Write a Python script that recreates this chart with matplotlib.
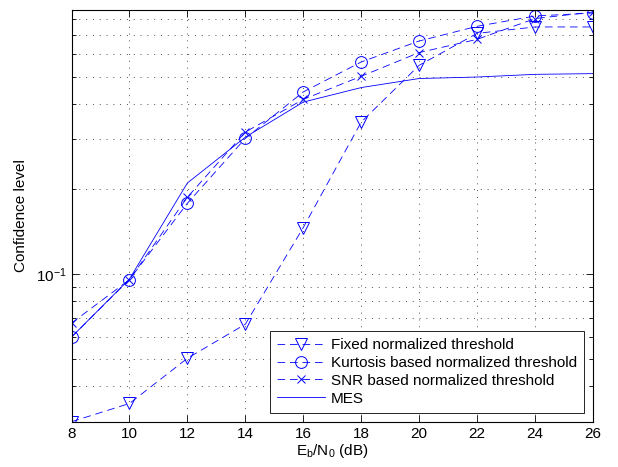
import numpy as np
import matplotlib
matplotlib.use("Agg")
import matplotlib.pyplot as plt
from matplotlib.ticker import LogLocator, NullFormatter

plt.rcParams['font.family'] = ['Liberation Sans', 'DejaVu Sans']
plt.rcParams['mathtext.fontset'] = 'custom'
plt.rcParams['mathtext.rm'] = 'Liberation Sans'
plt.rcParams['mathtext.it'] = 'Liberation Sans'
plt.rcParams['lines.scale_dashes'] = False

# Eb/N0 in dB
ebn0 = [8, 10, 12, 14, 16, 18, 20, 22, 24, 26]

# Confidence level for each detection scheme
fixed = [0.030, 0.0348, 0.0503, 0.0664, 0.146, 0.345, 0.548, 0.711, 0.749, 0.749]
kurtosis = [0.0598, 0.0956, 0.178, 0.302, 0.441, 0.563, 0.668, 0.753, 0.819, 0.839]
snr = [0.067, 0.0955, 0.187, 0.318, 0.415, 0.501, 0.608, 0.677, 0.802, 0.846]
mes = [0.0598, 0.096, 0.210, 0.305, 0.406, 0.457, 0.492, 0.498, 0.509, 0.512]

labels = ['Fixed normalized threshold',
          'Kurtosis based normalized threshold',
          'SNR based normalized threshold',
          'MES']

fs = 11

fig = plt.figure(figsize=(6.18, 4.67), dpi=100)
ax = fig.add_axes([71.5 / 618, 45.3 / 467, 521.5 / 618, 411.7 / 467])

blue = (0, 0, 1)
dash = (5.5, 3.5)
ax.plot(ebn0, fixed, color=blue, lw=0.6, dashes=dash, marker='v', ms=8.5,
        mfc='none', mew=0.7, label=labels[0])
ax.plot(ebn0, kurtosis, color=blue, lw=0.6, dashes=dash, marker='o', ms=8.5,
        mfc='none', mew=0.7, label=labels[1])
ax.plot(ebn0, snr, color=blue, lw=0.6, dashes=dash, marker='x', ms=6,
        mew=0.7, label=labels[2])
ax.plot(ebn0, mes, color=blue, lw=0.6, label=labels[3])

ax.set_yscale('log')
ax.set_xlim(8, 26)
ax.set_ylim(0.03, 0.86)
ax.set_xticks(np.arange(8, 27, 2))
ax.yaxis.set_major_locator(LogLocator(base=10))
ax.yaxis.set_minor_locator(LogLocator(base=10, subs=np.arange(2, 10)))
ax.yaxis.set_minor_formatter(NullFormatter())

ax.tick_params(which='both', direction='in', top=True, right=True,
               labelsize=fs, width=0.6)
ax.tick_params(which='major', length=5)
ax.tick_params(which='minor', length=3)

grid_style = dict(color='k', linestyle=(0, (0.7, 4.2)), linewidth=0.6, alpha=0.8)
ax.grid(True, which='major', axis='x', **grid_style)
ax.grid(True, which='both', axis='y', **grid_style)

for s in ax.spines.values():
    s.set_linewidth(0.8)

ax.set_xlabel(r'E$_\mathregular{b}$/N$_\mathregular{0}$ (dB)', fontsize=fs, labelpad=1)
ax.set_ylabel('Confidence level', fontsize=fs, labelpad=6)

leg = ax.legend(loc='lower right', fontsize=fs, handlelength=3.15,
                fancybox=False, framealpha=1, borderaxespad=0.6,
                labelspacing=0.25, borderpad=0.45, handletextpad=0.4)
leg.get_frame().set_edgecolor('k')
leg.get_frame().set_linewidth(0.6)

fig.savefig('out.png', dpi=100)
